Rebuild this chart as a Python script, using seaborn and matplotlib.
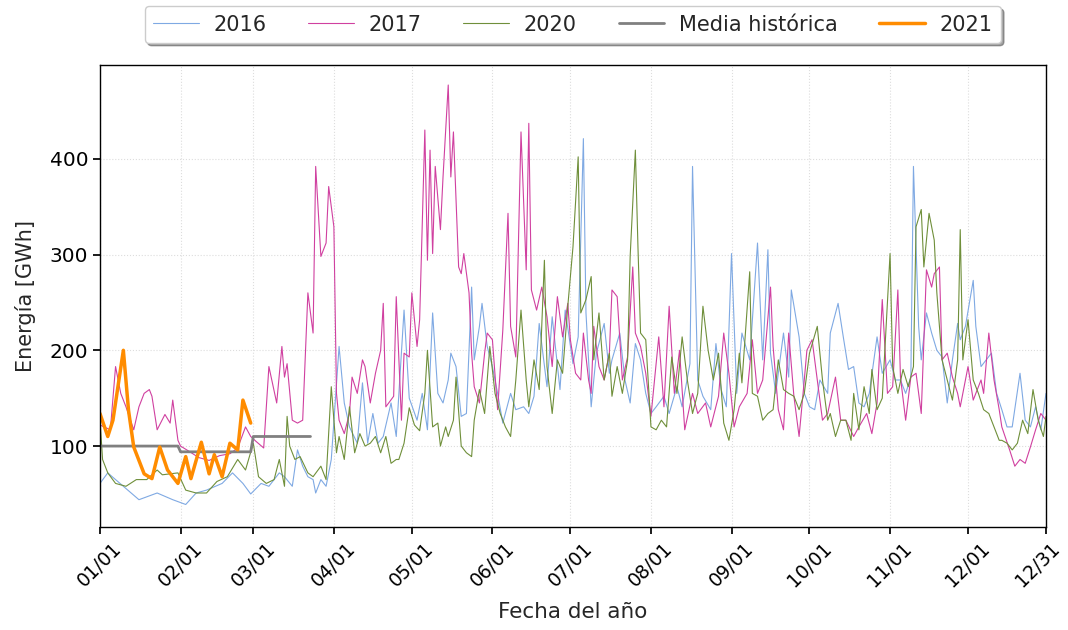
import pandas as pd
import numpy as np
import seaborn as sns
import matplotlib.pyplot as plt
import matplotlib.dates as mdates
from matplotlib.transforms import ScaledTranslation


# Datos (día del año -> GWh)

dias_2016 = [0, 3, 9, 15, 22, 28, 33, 37, 41, 47, 51, 55, 58, 62, 65, 69, 71, 74, 76, 78, 80, 82, 83, 85, 87, 89,
             92, 94, 96, 99, 101, 103, 105, 107, 109, 112, 114, 117, 119, 122, 124, 126, 128, 130, 132, 134, 135,
             137, 139, 141, 143, 144, 146, 147, 149, 151, 153, 155, 158, 160, 163, 165, 167, 169, 172, 174, 177,
             179, 182, 184, 186, 187, 189, 191, 194, 196, 197, 200, 202, 204, 206, 208, 210, 212, 214, 217, 219,
             222, 224, 227, 228, 230, 232, 235, 237, 239, 241, 243, 245, 247, 250, 253, 255, 257, 258, 260, 263,
             265, 266, 269, 271, 273, 275, 277, 280, 281, 284, 286, 288, 290, 292, 294, 296, 299, 301, 304, 306,
             308, 310, 312, 313, 315, 316, 318, 320, 322, 324, 326, 328, 330, 331, 333, 336, 337, 339, 341, 343,
             345, 347, 349, 351, 354, 356, 358, 360, 362, 364]
vals_2016 = [61, 72, 58, 44, 51, 44, 39, 51, 54, 61, 72, 61, 50, 61, 58, 72, 68, 58, 96, 79, 68, 65, 51, 65, 58, 86,
             204, 145, 120, 103, 166, 103, 134, 103, 110, 145, 110, 242, 150, 127, 155, 117, 239, 155, 145, 169, 197,
             183, 131, 134, 266, 190, 225, 249, 204, 183, 155, 124, 155, 138, 141, 134, 152, 228, 162, 235, 159,
             242, 186, 214, 421, 239, 141, 197, 228, 176, 190, 218, 169, 145, 207, 190, 155, 134, 141, 152, 134,
             162, 141, 186, 392, 169, 152, 138, 207, 159, 141, 301, 155, 218, 190, 312, 190, 305, 197, 155, 218,
             172, 263, 214, 155, 141, 138, 169, 155, 218, 249, 214, 180, 183, 145, 141, 155, 214, 176, 190, 169,
             169, 155, 172, 392, 225, 190, 239, 218, 200, 193, 145, 190, 228, 211, 225, 273, 225, 183, 190, 197,
             155, 138, 120, 120, 176, 127, 120, 141, 117, 155]

dias_2017 = [0, 4, 6, 8, 10, 13, 15, 17, 19, 20, 22, 25, 27, 28, 30, 31, 34, 38, 42, 46, 50, 53, 56, 58, 60, 63, 65,
             68, 70, 71, 72, 74, 76, 78, 80, 82, 83, 85, 87, 88, 90, 91, 92, 94, 96, 97, 99, 101, 102, 104, 106, 108,
             109, 110, 113, 114, 116, 117, 119, 120, 122, 123, 125, 126, 127, 128, 129, 131, 132, 134, 135, 136, 138,
             139, 140, 142, 143, 144, 146, 148, 149, 151, 153, 155, 157, 158, 160, 162, 164, 165, 166, 168, 170, 172,
             174, 176, 178, 180, 181, 183, 185, 186, 188, 189, 190, 192, 194, 196, 197, 199, 201, 203, 205, 206, 208,
             210, 212, 215, 217, 219, 221, 223, 225, 228, 230, 233, 235, 238, 240, 242, 244, 246, 249, 251, 253, 255,
             258, 259, 261, 263, 265, 267, 269, 271, 272, 274, 276, 278, 280, 283, 285, 287, 290, 292, 295, 297, 299,
             301, 303, 305, 307, 308, 310, 312, 314, 316, 318, 320, 321, 323, 324, 326, 328, 330, 331, 334, 336, 339,
             340, 342, 344, 346, 347, 350, 352, 354, 356, 358, 360, 362, 364]
vals_2017 = [122, 117, 183, 155, 141, 117, 141, 155, 159, 152, 117, 133, 124, 148, 106, 100, 95, 88, 85, 90, 92, 98,
             120, 110, 105, 98, 183, 145, 204, 172, 186, 127, 124, 127, 260, 218, 392, 298, 312, 371, 329, 155, 127,
             113, 134, 172, 155, 190, 183, 145, 176, 200, 249, 141, 152, 256, 127, 197, 193, 260, 204, 232, 430, 294,
             409, 301, 392, 326, 381, 477, 381, 428, 287, 280, 301, 260, 197, 162, 145, 197, 218, 211, 138, 221, 343,
             225, 193, 428, 284, 437, 263, 242, 266, 235, 183, 256, 214, 249, 211, 176, 169, 218, 169, 155, 225, 183,
             169, 197, 263, 256, 169, 193, 287, 218, 204, 176, 131, 214, 141, 246, 155, 200, 117, 155, 134, 145, 120,
             152, 218, 176, 120, 141, 155, 211, 155, 169, 266, 204, 138, 117, 218, 152, 110, 169, 200, 211, 169, 127,
             134, 172, 127, 127, 110, 120, 134, 113, 145, 253, 155, 162, 263, 172, 127, 172, 176, 134, 284, 266, 280,
             287, 190, 197, 172, 155, 141, 183, 148, 169, 155, 218, 169, 138, 120, 96, 79, 86, 82, 99, 117, 134, 127]

dias_2020 = [0, 1, 3, 6, 10, 14, 18, 22, 24, 30, 33, 37, 41, 45, 49, 53, 56, 59, 61, 64, 67, 69, 71, 72, 73, 75, 77,
             80, 82, 85, 87, 89, 91, 92, 94, 96, 98, 100, 102, 104, 106, 108, 110, 112, 114, 115, 117, 119, 121, 123,
             125, 126, 128, 130, 131, 133, 134, 136, 137, 139, 141, 143, 144, 146, 148, 150, 152, 154, 156, 158, 160,
             162, 164, 165, 167, 169, 171, 172, 174, 176, 178, 180, 182, 184, 185, 187, 189, 190, 192, 194, 196, 197,
             199, 201, 203, 204, 206, 207, 208, 210, 212, 214, 216, 218, 220, 222, 224, 226, 228, 230, 232, 234, 236,
             238, 240, 242, 244, 246, 247, 250, 251, 253, 255, 257, 259, 261, 263, 265, 267, 269, 271, 273, 276, 278,
             280, 281, 283, 285, 287, 289, 290, 292, 294, 296, 297, 299, 301, 304, 305, 307, 309, 311, 313, 314, 316,
             317, 319, 321, 322, 324, 326, 328, 330, 331, 332, 334, 336, 338, 340, 342, 344, 346, 347, 349, 351, 353,
             355, 357, 359, 361, 363, 364]
vals_2020 = [128, 86, 72, 61, 58, 65, 65, 75, 70, 72, 54, 51, 51, 63, 68, 86, 75, 103, 68, 61, 65, 86, 58, 131, 100,
             86, 89, 72, 68, 79, 65, 162, 93, 110, 86, 141, 93, 113, 100, 103, 110, 93, 110, 82, 86, 86, 103, 140, 122,
             116, 155, 200, 120, 124, 100, 120, 110, 127, 172, 100, 93, 89, 127, 159, 134, 204, 155, 134, 120, 110,
             169, 242, 169, 141, 190, 159, 294, 183, 134, 190, 176, 246, 308, 402, 239, 253, 277, 190, 239, 169, 197,
             152, 183, 155, 190, 298, 409, 308, 218, 211, 120, 117, 127, 120, 193, 155, 214, 169, 134, 155, 246, 200,
             169, 197, 124, 106, 138, 197, 166, 282, 155, 152, 127, 134, 138, 190, 159, 155, 152, 138, 155, 197, 225,
             169, 127, 134, 110, 127, 127, 106, 155, 117, 162, 134, 180, 138, 150, 301, 183, 155, 180, 162, 183, 329,
             347, 287, 343, 315, 260, 190, 169, 148, 190, 326, 190, 232, 169, 155, 138, 134, 120, 106, 106, 103, 96,
             103, 127, 113, 159, 127, 110, 131]

dias_media = [0, 30, 31, 58, 59, 81]
vals_media = [100, 100, 94, 94, 110, 110]

dias_2021 = [0, 3, 5, 9, 11, 13, 17, 20, 23, 26, 30, 33, 35, 39, 42, 44, 47, 50, 53, 55, 58]
vals_2021 = [134, 110, 127, 200, 137, 99, 71, 66, 99, 75, 61, 89, 66, 104, 71, 91, 68, 103, 96, 148, 124]

inicio = pd.Timestamp('2021-01-01')


def fechas(dias):
    return inicio + pd.to_timedelta(dias, unit='D')


# Estilo

sns.set_theme(style="ticks")
plt.rcParams['font.family'] = ['DejaVu Sans']

series = [
    ('2016', dias_2016, vals_2016, '#7fa9e3', 0.8),
    ('2017', dias_2017, vals_2017, '#d040a0', 0.8),
    ('2020', dias_2020, vals_2020, '#6f8f3a', 0.8),
    ('Media histórica', dias_media, vals_media, '#808080', 2.0),
    ('2021', dias_2021, vals_2021, '#ff8c00', 2.5),
]

fig, ax = plt.subplots(figsize=(10.68, 6.3), dpi=100)
fig.subplots_adjust(left=0.0936, right=0.9794, top=0.897, bottom=0.1635)

for nombre, dias, vals, color, lw in series:
    sns.lineplot(x=fechas(dias), y=vals, ax=ax, color=color, linewidth=lw, label=nombre)

ax.set_xlim(pd.Timestamp('2021-01-01'), pd.Timestamp('2021-12-31'))
ax.set_ylim(15.5, 498)
ax.set_yticks([100, 200, 300, 400])

ticks = list(pd.date_range('2021-01-01', periods=12, freq='MS')) + [pd.Timestamp('2021-12-31')]
ax.set_xticks(ticks)
ax.xaxis.set_major_formatter(mdates.DateFormatter('%m/%d'))

ax.grid(True, color='#dddddd', linestyle=':', linewidth=0.8)
for s in ax.spines.values():
    s.set_color('black')
    s.set_linewidth(1.0)
ax.tick_params(colors='black', length=5)

plt.setp(ax.get_xticklabels(), rotation=45, fontsize=13.5)
plt.setp(ax.get_yticklabels(), fontsize=14.5)

# la última etiqueta se desplaza un poco para que no quede cortada
ultima = ax.get_xticklabels()[-1]
ultima.set_transform(ultima.get_transform() + ScaledTranslation(-8 / 100, 0, fig.dpi_scale_trans))

ax.set_xlabel('Fecha del año', fontsize=15.5, labelpad=8)
ax.set_ylabel('Energía [GWh]', fontsize=15, labelpad=10)

ax.legend(loc='lower center', bbox_to_anchor=(0.5, 1.025), ncol=5, shadow=True,
          fontsize=15, frameon=True, framealpha=1, edgecolor='#cccccc',
          handlelength=2.2, handletextpad=0.7, columnspacing=2.0, borderpad=0.4)

plt.savefig('out.png', dpi=100)
